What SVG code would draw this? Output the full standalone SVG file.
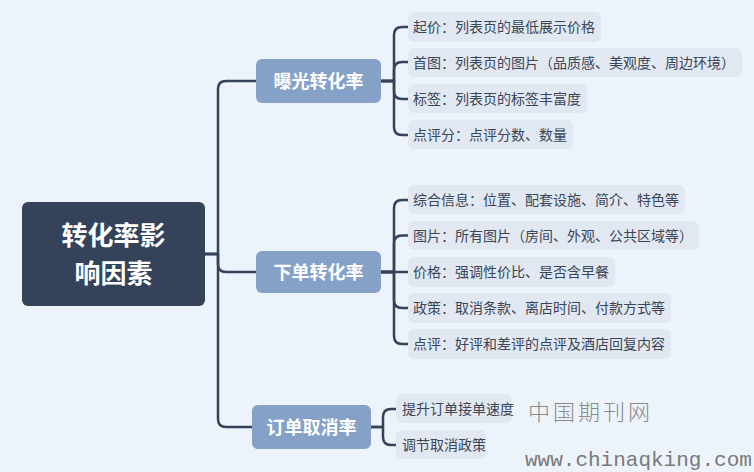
<svg xmlns="http://www.w3.org/2000/svg" width="754" height="472" viewBox="0 0 754 472">
<style>
.bg{fill:#ecf3fa}
.root rect{fill:#344359}
.root text{fill:#ffffff;font-family:"Noto Sans CJK SC",sans-serif;font-weight:bold;font-size:26px;text-anchor:middle}
.branch rect{fill:#85a1c8}
.branch text{fill:#ffffff;font-family:"Noto Sans CJK SC",sans-serif;font-weight:bold;font-size:18px;text-anchor:middle}
.leaf rect{fill:#e1e8f1}
.leaf text{fill:#3a4556;font-family:"Noto Sans CJK SC",sans-serif;font-size:14px}
.conn path{fill:none;stroke:#344359;stroke-width:2.5;stroke-linejoin:round}
.wm1{fill:#8a8a8a;font-family:"Noto Sans CJK SC",serif;font-size:22px;font-weight:300;letter-spacing:3px}
.wm2{fill:#7a7a7a;font-family:"Liberation Mono",monospace;font-size:21px}
</style>
<rect class="bg" x="0" y="0" width="754" height="472"/>
<g id="connectors" class="conn">
<path d="M205,254 H218 V89 Q218,81 226,81 H256"/>
<path d="M205,254 H218 V264 Q218,272 226,272 H256"/>
<path d="M205,254 H218 V419 Q218,427 226,427 H252"/>
<path d="M381,81 H394 V35 Q394,27 402,27 H408"/>
<path d="M381,81 H394 V70 Q394,62 402,62 H408"/>
<path d="M381,81 H394 V91 Q394,99 402,99 H408"/>
<path d="M381,81 H394 V127 Q394,135 402,135 H408"/>
<path d="M381,272 H394 V208 Q394,200 402,200 H408"/>
<path d="M381,272 H394 V243.5 Q394,235.5 402,235.5 H408"/>
<path d="M381,272 H408"/>
<path d="M381,272 H394 V300 Q394,308 402,308 H408"/>
<path d="M381,272 H394 V336 Q394,344 402,344 H408"/>
<path d="M371,427 H383 V417 Q383,409 391,409 H396"/>
<path d="M371,427 H383 V437 Q383,445 391,445 H396"/>
</g>
<g id="root" class="root">
<rect x="22" y="202" width="183" height="104" rx="6"/>
<text x="113.5" y="245">转化率影</text>
<text x="113.5" y="283">响因素</text>
</g>
<g id="b1" class="branch"><rect x="256" y="59" width="125" height="44" rx="6"/><text x="318.5" y="87.5">曝光转化率</text></g>
<g id="b2" class="branch"><rect x="256" y="251" width="125" height="42" rx="6"/><text x="318.5" y="278.5">下单转化率</text></g>
<g id="b3" class="branch"><rect x="252" y="405" width="119" height="44" rx="6"/><text x="311.5" y="433.5">订单取消率</text></g>
<g id="l1" class="leaf"><rect x="408" y="12" width="193" height="30" rx="6"/><text x="413" y="32">起价：列表页的最低展示价格</text></g>
<g id="l2" class="leaf"><rect x="408" y="48" width="334" height="29" rx="6"/><text x="413" y="67.5">首图：列表页的图片（品质感、美观度、周边环境）</text></g>
<g id="l3" class="leaf"><rect x="408" y="84" width="179" height="29" rx="6"/><text x="413" y="103.5">标签：列表页的标签丰富度</text></g>
<g id="l4" class="leaf"><rect x="408" y="120" width="165" height="29" rx="6"/><text x="413" y="139.5">点评分：点评分数、数量</text></g>
<g id="l5" class="leaf"><rect x="408" y="185" width="277" height="29" rx="6"/><text x="413" y="204.5">综合信息：位置、配套设施、简介、特色等</text></g>
<g id="l6" class="leaf"><rect x="408" y="221" width="291" height="29" rx="6"/><text x="413" y="240.5">图片：所有图片（房间、外观、公共区域等）</text></g>
<g id="l7" class="leaf"><rect x="408" y="257" width="207" height="30" rx="6"/><text x="413" y="277">价格：强调性价比、是否含早餐</text></g>
<g id="l8" class="leaf"><rect x="408" y="293" width="263" height="30" rx="6"/><text x="413" y="313">政策：取消条款、离店时间、付款方式等</text></g>
<g id="l9" class="leaf"><rect x="408" y="329" width="263" height="30" rx="6"/><text x="413" y="349">点评：好评和差评的点评及酒店回复内容</text></g>
<g id="l10" class="leaf"><rect x="396" y="394" width="116" height="29" rx="6"/><text x="402" y="413.5">提升订单接单速度</text></g>
<g id="l11" class="leaf"><rect x="396" y="430" width="90" height="29" rx="6"/><text x="402" y="449.5">调节取消政策</text></g>
<text class="wm1" x="528" y="420">中国期刊网</text>
<text class="wm2" x="525" y="466">www.chinaqking.com</text>
</svg>
